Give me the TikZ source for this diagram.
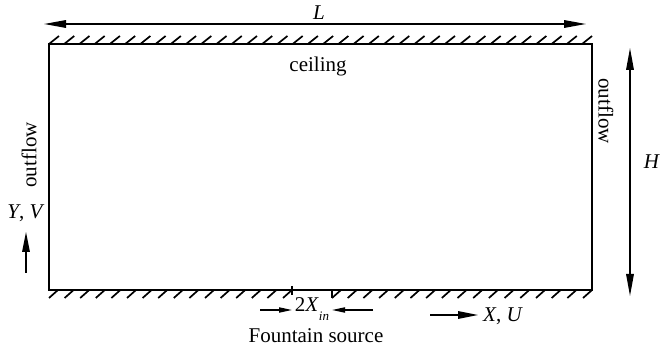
\documentclass[tikz,border=0pt]{standalone}
\usepackage{fontspec}
\setmainfont{Liberation Serif}
\usetikzlibrary{arrows.meta}
\tikzset{
	wall/.style={line width=1pt},
	hatch/.style={line width=0.85pt},
	dimline/.style={line width=0.65pt,{Triangle[length=11pt,width=3.8pt]}-{Triangle[length=11pt,width=3.8pt]}},
	axisarrow/.style={line width=0.65pt,-{Triangle[length=10pt,width=3.8pt]}},
	gaparrow/.style={line width=0.65pt,-{Triangle[length=6.5pt,width=2.6pt]}},
	lbl/.style={inner sep=0pt}
}
\begin{document}
\begin{tikzpicture}[x=0.5pt,y=-0.5pt,font=\fontsize{10.5}{12}\selectfont]
			\useasboundingbox (0,0) rectangle (665,352);
			% domain walls
			\coordinate (tl) at (49,44);
			\coordinate (tr) at (592,44);
			\coordinate (br) at (592,290);
			\coordinate (bl) at (49,290);
			\draw[wall] (bl) -- (tl) -- (tr) -- (br) -- cycle;
			% hatching on the ceiling
			\foreach \k in {0,...,35}{
				\pgfmathsetmacro{\hx}{49+\k*15.23}%
				\draw[hatch] (\hx,44) -- ++(10,-8);
			}
			% hatching on the floor, left and right of the source
			\foreach \k in {0,...,15}{
				\pgfmathsetmacro{\hx}{49+\k*15.6}%
				\draw[hatch] (\hx,298) -- ++(9,-8);
			}
			\foreach \k in {0,...,16}{
				\pgfmathsetmacro{\hx}{332+\k*15.69}%
				\draw[hatch] (\hx,298) -- ++(9,-8);
			}
			% source edges
			\coordinate (s1t) at (292,286);
			\coordinate (s1b) at (292,295);
			\coordinate (s2t) at (332,290);
			\coordinate (s2b) at (332,298);
			\draw[hatch] (s1t) -- (s1b);
			\draw[hatch] (s2t) -- (s2b);
			% dimensions
			\coordinate (la) at (44,24);
			\coordinate (lb) at (586,24);
			\draw[dimline] (la) -- (lb);
			\coordinate (ha) at (630,48);
			\coordinate (hb) at (630,296);
			\draw[dimline] (ha) -- (hb);
			% source width arrows
			\coordinate (sa) at (260,310);
			\coordinate (sb) at (292,310);
			\coordinate (sc) at (373,310);
			\coordinate (sd) at (332,310);
			\draw[gaparrow] (sa) -- (sb);
			\draw[gaparrow] (sc) -- (sd);
			% axes
			\coordinate (xa) at (430,315);
			\coordinate (xb) at (478,315);
			\draw[axisarrow] (xa) -- (xb);
			\coordinate (ya) at (26,273);
			\coordinate (yb) at (26,232);
			\draw[axisarrow] (ya) -- (yb);
			% labels
			\node[lbl] (lenL) at (319,13) {\textit{L}};
			\node[lbl] (lenH) at (652,162) {\textit{H}};
			\node[lbl] (ceil) at (318,66) {ceiling};
			\node[lbl,rotate=90] (outL) at (29,155) {outflow};
			\node[lbl,rotate=-90] (outR) at (606,111) {outflow};
			\node[lbl] (yv) at (26,213) {\textit{Y}, \textit{V}};
			\node[lbl] (xu) at (503,316) {\textit{X}, \textit{U}};
			\node[lbl] (width) at (312,309) {2\textit{X}\raisebox{-0.4em}{\fontsize{6.5}{7}\selectfont\textit{in}}};
			\node[lbl] (src) at (316,336) {Fountain source};
		\end{tikzpicture}
\end{document}
